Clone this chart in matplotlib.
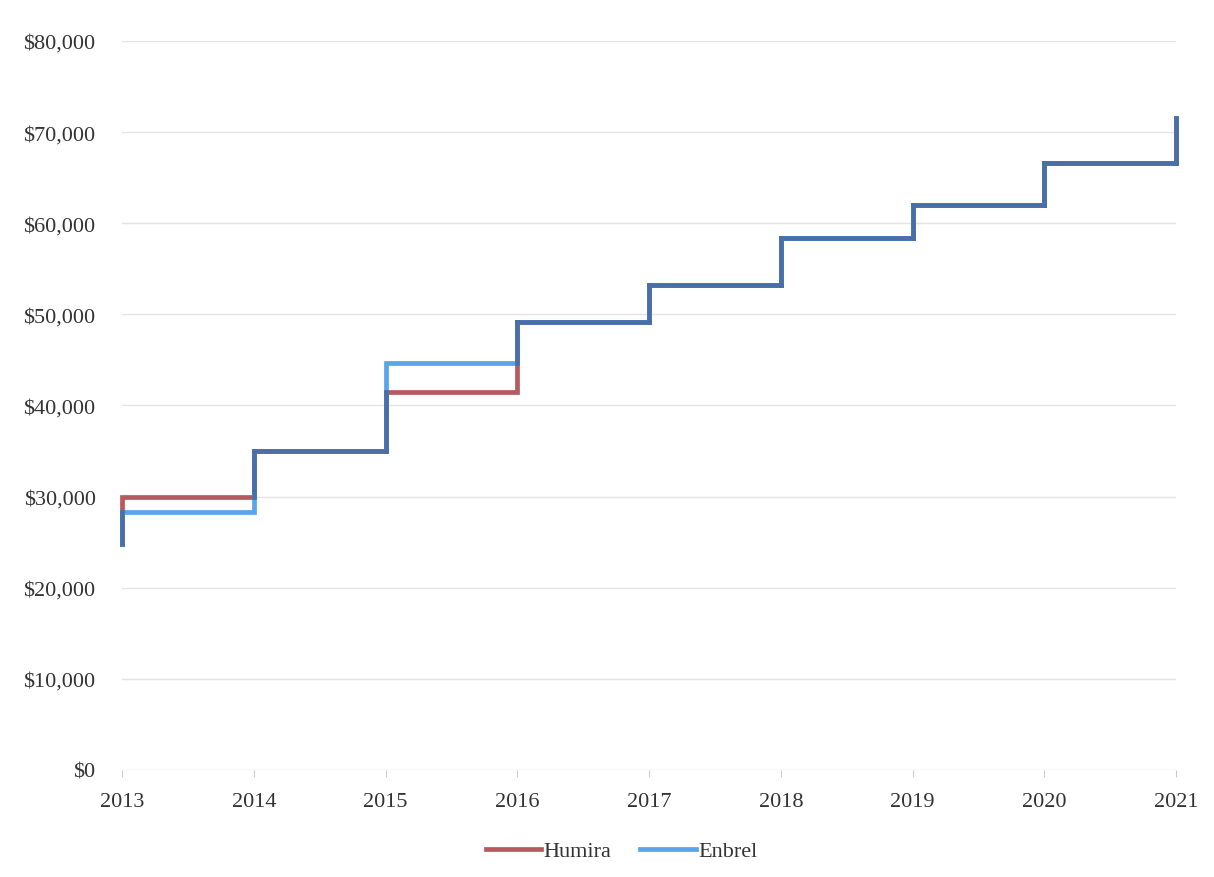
import numpy as np
import matplotlib
matplotlib.use('Agg')
import matplotlib.pyplot as plt
from matplotlib.ticker import FuncFormatter

# step points: first entry is the starting price at 2013, then the price from each year on
years = [2013, 2013, 2014, 2015, 2016, 2017, 2018, 2019, 2020, 2021]
humira = [24800, 30000, 35000, 41500, 49200, 53200, 58400, 62000, 66600, 71600]
enbrel = [24800, 28300, 35000, 44700, 49200, 53200, 58400, 62000, 66600, 71600]

red = '#b65a60'
light_blue = '#5aa4ea'
shared = '#4a6fa8'
lw = 3.4

plt.rcParams['font.family'] = ['Liberation Serif', 'DejaVu Serif']

f = plt.figure(figsize=(12.14, 8.78), dpi=100)
ax = f.add_axes([0.1005, 0.1219, 0.8682, 0.8303])

ax.plot(years, humira, drawstyle='steps-post', color=red, lw=lw, label='Humira',
        solid_joinstyle='miter', clip_on=False)
ax.plot(years, enbrel, drawstyle='steps-post', color=light_blue, lw=lw, label='Enbrel',
        solid_joinstyle='miter', clip_on=False)

# where both series run on the same path, the line shows in a darker blue
h = np.array(humira, dtype=float)
e = np.array(enbrel, dtype=float)
x = np.array(years, dtype=float)
for i in range(1, len(x)):
    lo = max(min(h[i - 1], h[i]), min(e[i - 1], e[i]))
    hi = min(max(h[i - 1], h[i]), max(e[i - 1], e[i]))
    if hi > lo:
        ax.vlines(x[i], lo, hi, color=shared, lw=lw, capstyle='projecting', clip_on=False)
for i in range(1, len(x) - 1):
    if h[i] == e[i]:
        ax.hlines(h[i], x[i], x[i + 1], color=shared, lw=lw, capstyle='projecting',
                  clip_on=False)

ax.set_xlim(2013, 2021)
ax.set_ylim(0, 80000)
ax.set_xticks(range(2013, 2022))
ax.set_yticks(range(0, 80001, 10000))
ax.yaxis.set_major_formatter(FuncFormatter(lambda v, p: '${:,.0f}'.format(v)))
ax.tick_params(axis='y', length=0, pad=19, labelsize=16, labelcolor='#333333')
ax.tick_params(axis='x', length=5, width=0.8, color='#cccccc', pad=11,
               labelsize=16, labelcolor='#333333')
ax.grid(axis='y', color='#e4e4e4', lw=1)
ax.set_axisbelow(True)
for s in ax.spines.values():
    s.set_visible(False)

leg = f.legend(loc='lower center', bbox_to_anchor=(0.512, -0.005), ncol=2, frameon=False,
               fontsize=16, handlelength=2.5, handletextpad=0.1, columnspacing=1.3)
for t in leg.get_texts():
    t.set_color('#333333')

f.savefig('out.png', dpi=100)
